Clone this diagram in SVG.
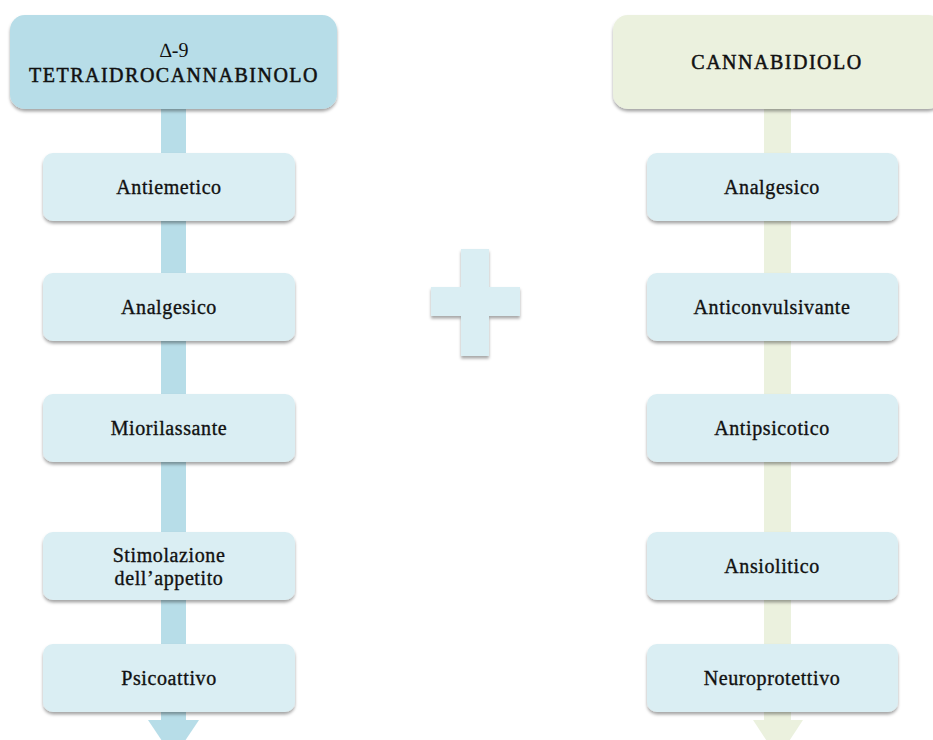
<svg xmlns="http://www.w3.org/2000/svg" width="933" height="740" viewBox="0 0 933 740">
  <defs>
    <filter id="shadow" x="-10%" y="-20%" width="120%" height="150%">
      <feDropShadow dx="0" dy="2.5" stdDeviation="1.6" flood-color="#000" flood-opacity="0.35"/>
    </filter>
  </defs>
  <style>
    .hdr-blue { fill: #b7dde8; }
    .hdr-green { fill: #ebf1de; }
    .item { fill: #daeef3; }
    .bar-blue { fill: #b7dde8; }
    .bar-green { fill: #ebf1de; }
    text { font-family: "Liberation Serif", "DejaVu Serif", serif; font-size: 20px; fill: #111; stroke: #111; stroke-width: 0.35px; text-anchor: middle; }
    .lc { letter-spacing: 0.6px; }
    .uc { letter-spacing: 1.5px; stroke-width: 0.5px; }
  </style>
  <rect width="933" height="740" fill="#fff"/>

  <!-- connectors: vertical flow bars with arrow heads -->
  <g id="connectors">
    <rect class="bar-blue" x="161" y="100" width="25" height="625"/>
    <polygon class="bar-blue" points="148,720 199,720 173.5,758"/>
    <rect class="bar-green" x="764" y="100" width="27" height="625"/>
    <polygon class="bar-green" points="753,720 803,720 778,758"/>
  </g>

  <!-- left column -->
  <g id="thc">
    <rect class="hdr-blue" x="10" y="15" width="327" height="94" rx="15" filter="url(#shadow)"/>
    <text x="174" y="57" style="stroke-width:0">∆-9</text>
    <text class="uc" x="174" y="82">TETRAIDROCANNABINOLO</text>
  </g>
  <g id="thc-antiemetico">
    <rect class="item" x="43" y="153" width="252" height="68" rx="10" filter="url(#shadow)"/>
    <text class="lc" x="169" y="194">Antiemetico</text>
  </g>
  <g id="thc-analgesico">
    <rect class="item" x="43" y="273" width="252" height="68" rx="10" filter="url(#shadow)"/>
    <text class="lc" x="169" y="314">Analgesico</text>
  </g>
  <g id="thc-miorilassante">
    <rect class="item" x="43" y="394" width="252" height="68" rx="10" filter="url(#shadow)"/>
    <text class="lc" x="169" y="435">Miorilassante</text>
  </g>
  <g id="thc-appetito">
    <rect class="item" x="43" y="532" width="252" height="68" rx="10" filter="url(#shadow)"/>
    <text class="lc" x="169" y="562">Stimolazione</text>
    <text class="lc" x="169" y="585">dell’appetito</text>
  </g>
  <g id="thc-psicoattivo">
    <rect class="item" x="43" y="644" width="252" height="68" rx="10" filter="url(#shadow)"/>
    <text class="lc" x="169" y="685">Psicoattivo</text>
  </g>

  <!-- plus sign -->
  <g id="plus">
    <path class="item" d="M461,249 H489 V287 H520 V316 H489 V356 H461 V316 H431 V287 H461 Z" filter="url(#shadow)"/>
  </g>

  <!-- right column -->
  <g id="cbd">
    <rect class="hdr-green" x="613" y="15" width="330" height="94" rx="15" filter="url(#shadow)"/>
    <text class="uc" x="777" y="69">CANNABIDIOLO</text>
  </g>
  <g id="cbd-analgesico">
    <rect class="item" x="647" y="153" width="251" height="68" rx="10" filter="url(#shadow)"/>
    <text class="lc" x="772" y="194">Analgesico</text>
  </g>
  <g id="cbd-anticonvulsivante">
    <rect class="item" x="647" y="273" width="251" height="68" rx="10" filter="url(#shadow)"/>
    <text class="lc" x="772" y="314">Anticonvulsivante</text>
  </g>
  <g id="cbd-antipsicotico">
    <rect class="item" x="647" y="394" width="251" height="68" rx="10" filter="url(#shadow)"/>
    <text class="lc" x="772" y="435">Antipsicotico</text>
  </g>
  <g id="cbd-ansiolitico">
    <rect class="item" x="647" y="532" width="251" height="68" rx="10" filter="url(#shadow)"/>
    <text class="lc" x="772" y="573">Ansiolitico</text>
  </g>
  <g id="cbd-neuroprotettivo">
    <rect class="item" x="647" y="644" width="251" height="68" rx="10" filter="url(#shadow)"/>
    <text class="lc" x="772" y="685">Neuroprotettivo</text>
  </g>
</svg>
